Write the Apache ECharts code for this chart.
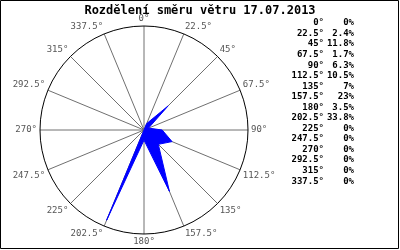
<!DOCTYPE html>
<html>
<head>
<meta charset="utf-8">
<script src="https://cdn.jsdelivr.net/npm/echarts@6/dist/echarts.min.js"></script>
<style>html,body{margin:0;padding:0;background:#fff}#c{width:400px;height:250px}</style>
</head>
<body>
<div id="c"></div>
<script>
const titleText = 'Rozdělení směru větru 17.07.2013';
const directions = [0, 22.5, 45, 67.5, 90, 112.5, 135, 157.5, 180, 202.5, 225, 247.5, 270, 292.5, 315, 337.5];
const directionLabels = ['0°','22.5°','45°','67.5°','90°','112.5°','135°','157.5°','180°','202.5°','225°','247.5°','270°','292.5°','315°','337.5°'];
const shares = [0, 2.4, 11.8, 1.7, 6.3, 10.5, 7, 23, 3.5, 33.8, 0, 0, 0, 0, 0, 0];

const chart = echarts.init(document.getElementById('c'), null, {renderer: 'canvas'});
const seriesData = shares.map((v, i) => [v, directions[i]]);
seriesData.push([shares[0], 360]);

const mono = 'DejaVu Sans Mono';
const tableTexts = [];
directionLabels.forEach((lab, i) => {
  const y = 23 + i * 10.55;
  tableTexts.push({type: 'text', x: 324, y: y, style: {text: lab, textAlign: 'right', textVerticalAlign: 'middle', font: 'bold 9px "' + mono + '"', fill: '#000'}});
  tableTexts.push({type: 'text', x: 354, y: y, style: {text: shares[i] + '%', textAlign: 'right', textVerticalAlign: 'middle', font: 'bold 9px "' + mono + '"', fill: '#000'}});
});

chart.setOption({
  animation: false,
  backgroundColor: '#fff',
  title: {text: titleText, left: 'center', top: 0, textStyle: {fontFamily: mono, fontSize: 12, fontWeight: 'bold', color: '#000'}},
  polar: {center: [144, 130], radius: 104},
  angleAxis: {
    type: 'value', min: 0, max: 360, interval: 22.5, startAngle: 90, clockwise: true,
    axisLine: {show: true, lineStyle: {color: '#000', width: 1}},
    axisTick: {show: false},
    splitLine: {show: true, lineStyle: {color: '#707070', width: 1}},
    axisLabel: {
      formatter: function (v) { const i = directions.indexOf(v); return i < 0 ? '' : directionLabels[i]; },
      color: '#555', fontFamily: mono, fontSize: 9, margin: 3
    }
  },
  radiusAxis: {
    min: 0, max: 36,
    axisLine: {show: false}, axisTick: {show: false}, axisLabel: {show: false}, splitLine: {show: false}
  },
  series: [{
    type: 'line', coordinateSystem: 'polar', data: seriesData,
    symbol: 'none', smooth: false,
    lineStyle: {color: '#0000ff', width: 1},
    areaStyle: {color: '#0000ff', opacity: 1}
  }],
  graphic: [
    {type: 'rect', shape: {x: 0.5, y: 0.5, width: 398, height: 248}, style: {fill: 'none', stroke: '#000', lineWidth: 1}}
  ].concat(tableTexts)
});
</script>
</body>
</html>
